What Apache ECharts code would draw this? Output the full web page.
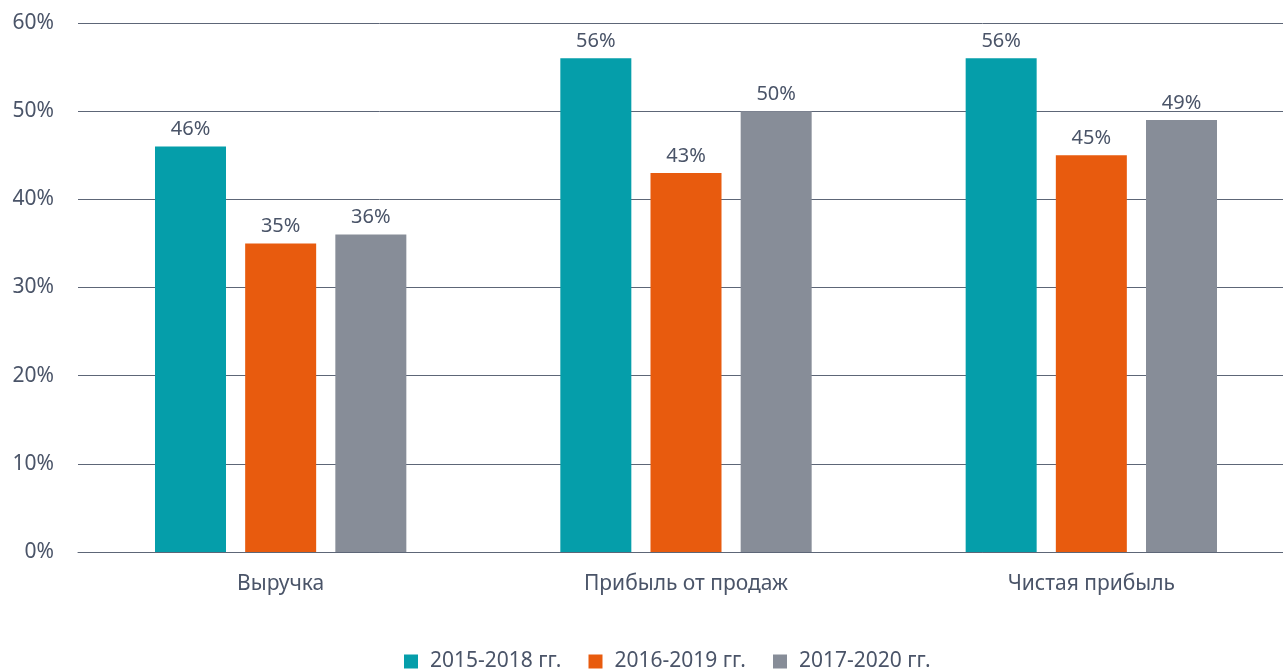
<!DOCTYPE html>
<html>
<head>
<meta charset="utf-8">
<script src="https://cdn.jsdelivr.net/npm/echarts@6/dist/echarts.min.js"></script>
<style>
  html, body { margin: 0; padding: 0; background: #fff; }
  #chart { width: 1283px; height: 670px; }
</style>
</head>
<body>
<div id="chart"></div>
<script>
const categories = ['Выручка', 'Прибыль от продаж', 'Чистая прибыль']
const seriesNames = ['2015-2018 гг.', '2016-2019 гг.', '2017-2020 гг.']
const values2015 = [46, 56, 56]
const values2016 = [35, 43, 45]
const values2017 = [36, 50, 49]
const colors = ['#059eaa', '#e85b0e', '#878d98']

const textColor = '#4a5468'
const font = 'Noto Sans'

const chart = echarts.init(document.getElementById('chart'))

const label = {
  show: true,
  position: 'top',
  distance: 7,
  color: textColor,
  fontFamily: font,
  fontSize: 20,
  formatter: p => p.value + '%'
}

chart.setOption({
  animation: false,
  textStyle: { fontFamily: font },
  // plot runs a little past the right edge, like the original
  grid: { top: 23, left: 78, width: 1216, height: 529, outerBoundsMode: 'none' },
  legend: {
    top: 646,
    left: 399,
    itemWidth: 14,
    itemHeight: 14,
    itemGap: 27,
    icon: 'rect',
    textStyle: { color: textColor, fontSize: 21, fontFamily: font, padding: [0, 0, 0, 7] },
    data: seriesNames
  },
  xAxis: {
    type: 'category',
    data: categories,
    axisTick: { show: false },
    axisLine: { lineStyle: { color: '#5d6677', width: 1 } },
    axisLabel: { color: textColor, fontSize: 21, fontFamily: font, margin: 22 }
  },
  yAxis: {
    type: 'value',
    min: 0,
    max: 60,
    interval: 10,
    axisLabel: { color: textColor, fontSize: 21, fontFamily: font, margin: 24, formatter: '{value}%' },
    splitLine: { lineStyle: { color: '#5d6677', width: 1 } },
    axisLine: { show: false },
    axisTick: { show: false }
  },
  series: [values2015, values2016, values2017].map((d, i) => ({
    name: seriesNames[i],
    type: 'bar',
    data: d,
    barWidth: 71,
    barGap: '27%',
    itemStyle: { color: colors[i] },
    label: label
  }))
})
</script>
</body>
</html>
